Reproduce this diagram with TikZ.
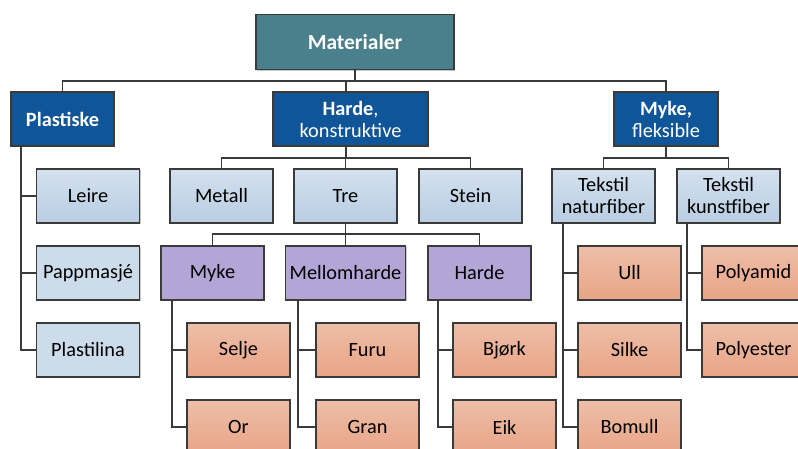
\documentclass[tikz,border=0pt]{standalone}
\usepackage{fontspec}
\setmainfont{Carlito}
\usetikzlibrary{shadows}
\definecolor{teal1}{HTML}{4A808C}
\definecolor{dblue}{HTML}{0F5597}
\definecolor{lbtop}{HTML}{D4E1EE}
\definecolor{lbbot}{HTML}{B8CCE2}
\definecolor{lbflat}{HTML}{CCDCEB}
\definecolor{purp}{HTML}{B3A5D6}
\definecolor{ortop}{HTML}{EEBEA8}
\definecolor{orbot}{HTML}{E8A486}
\definecolor{edge}{HTML}{3A3A3A}
\tikzset{
  box/.style={draw=edge, line width=1.2pt, minimum width=103pt, minimum height=54pt, inner sep=0pt, align=center,
     font=\fontsize{20.3}{22}\selectfont, drop shadow={shadow xshift=1.2pt, shadow yshift=-1.2pt, opacity=0.35, fill=black!60}},
  topbox/.style={box, fill=teal1, text=white, font=\fontsize{21.5}{23}\selectfont\bfseries},
  bluebox/.style={box, fill=dblue, text=white},
  lbox/.style={box, top color=lbtop, bottom color=lbbot},
  fbox/.style={box, fill=lbflat},
  pbox/.style={box, fill=purp},
  obox/.style={box, top color=ortop, bottom color=orbot},
  conn/.style={draw=edge, line width=1.3pt}
}
\begin{document}
\begin{tikzpicture}[x=1pt,y=-1pt]
\useasboundingbox (0,0) rectangle (798,448);
\clip (0,0) rectangle (798,448);
\fill[white] (0,0) rectangle (798,448);
\coordinate (b1) at (0,81);
\coordinate (b2) at (0,158);
\coordinate (b3) at (0,234);
\coordinate (hx) at (346,0);
\node[topbox, minimum width=198pt, minimum height=55pt] (mat) at (355,42) {Materialer};
\node[bluebox] (plast) at (62.5,119) {\textbf{Plastiske}};
\node[bluebox, minimum width=155pt] (harde) at (350.5,119) {\textbf{Harde},\\konstruktive};
\node[bluebox, minimum width=104pt] (myke) at (666,119) {\textbf{Myke,}\\fleksible};

\node[lbox] (leire) at (88,196) {Leire};
\node[fbox] (papp) at (88,273) {Pappmasjé};
\node[fbox] (plastil) at (88,350) {Plastilina};

\node[lbox] (metall) at (221.5,196) {Metall};
\node[lbox] (tre) at (345.5,196) {Tre};
\node[lbox] (stein) at (470.5,196) {Stein};
\node[lbox] (tnat) at (603.5,196) {Tekstil\\naturfiber};
\node[lbox] (tkun) at (728.5,196) {Tekstil\\kunstfiber};

\node[pbox] (myk2) at (212.5,273) {Myke};
\node[pbox, minimum width=120pt] (mell) at (345.5,273) {Mellomharde};
\node[pbox] (hard2) at (479.5,273) {Harde};

\node[obox] (selje) at (238.5,350) {Selje};
\node[obox] (or) at (238.5,427) {Or};
\node[obox] (furu) at (367.5,350) {Furu};
\node[obox] (gran) at (367.5,427) {Gran};
\node[obox] (bjork) at (504.5,350) {Bjørk};
\node[obox] (eik) at (504.5,427) {Eik};
\node[obox] (ull) at (629.5,273) {Ull};
\node[obox] (silke) at (629.5,350) {Silke};
\node[obox] (bomull) at (629.5,427) {Bomull};
\node[obox] (polyamid) at (753.5,273) {Polyamid};
\node[obox] (polyester) at (753.5,350) {Polyester};

\draw[conn] (mat.south) -- (mat.south|-b1);
\draw[conn] (plast.north) |- (myke.north|-b1) -- (myke.north);
\draw[conn] (harde.north-|hx) -- (hx|-b1);
\draw[conn] (harde.south-|hx) -- (hx|-b2);
\draw[conn] (metall.north) |- (stein.north|-b2) -- (stein.north);
\draw[conn] (tre.north) -- (tre.north|-b2);
\draw[conn] (myke.south) -- (myke.south|-b2);
\draw[conn] (tnat.north) |- (tkun.north|-b2) -- (tkun.north);
\coordinate (px) at (21,0);
\draw[conn] (plast.south-|px) |- (plastil.west);
\draw[conn] (px|-leire.west) -- (leire.west);
\draw[conn] (px|-papp.west) -- (papp.west);
\draw[conn] (tre.south) -- (tre.south|-b3);
\draw[conn] (myk2.north) |- (hard2.north|-b3) -- (hard2.north);
\draw[conn] (mell.north) -- (mell.north|-b3);
\coordinate (mx) at (172,0);
\draw[conn] (myk2.south-|mx) |- (or.west);
\draw[conn] (mx|-selje.west) -- (selje.west);
\coordinate (ex) at (298,0);
\draw[conn] (mell.south-|ex) |- (gran.west);
\draw[conn] (ex|-furu.west) -- (furu.west);
\coordinate (hx2) at (438,0);
\draw[conn] (hard2.south-|hx2) |- (eik.west);
\draw[conn] (hx2|-bjork.west) -- (bjork.west);
\coordinate (nx) at (563,0);
\draw[conn] (tnat.south-|nx) |- (bomull.west);
\draw[conn] (nx|-ull.west) -- (ull.west);
\draw[conn] (nx|-silke.west) -- (silke.west);
\coordinate (kx) at (687,0);
\draw[conn] (tkun.south-|kx) |- (polyester.west);
\draw[conn] (kx|-polyamid.west) -- (polyamid.west);
\end{tikzpicture}
\end{document}
